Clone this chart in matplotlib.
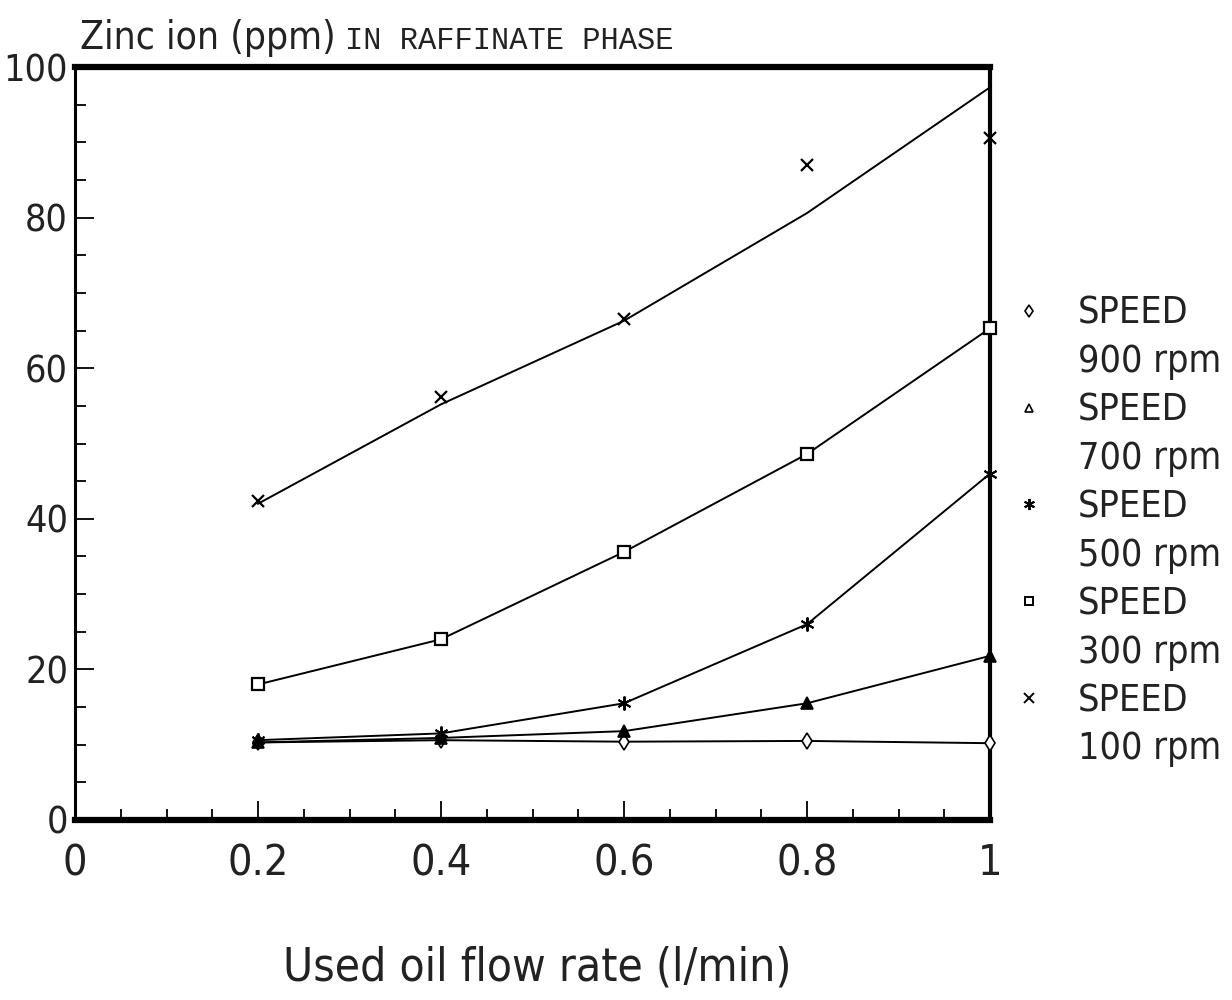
import matplotlib
matplotlib.use("Agg")
import matplotlib.pyplot as plt
from matplotlib.lines import Line2D
from matplotlib.ticker import MultipleLocator

flow = [0.2, 0.4, 0.6, 0.8, 1.0]
rpm900 = [10.3, 10.6, 10.4, 10.5, 10.2]
rpm700 = [10.3, 10.9, 11.8, 15.5, 21.8]
rpm500 = [10.6, 11.5, 15.5, 26.0, 46.0]
rpm300 = [18.0, 24.0, 35.6, 48.6, 65.3]
rpm100 = [42.3, 56.2, 66.5, 87.0, 90.6]
rpm100_fit = [42.0, 55.2, 66.3, 80.6, 97.3]
speeds = ["900 rpm", "700 rpm", "500 rpm", "300 rpm", "100 rpm"]
xticks = [0, 0.2, 0.4, 0.6, 0.8, 1.0]
xticklabels = ["0", "0.2", "0.4", "0.6", "0.8", "1"]
yticks = [0, 20, 40, 60, 80, 100]

FONT = dict(family="DejaVu Sans", fontstretch="condensed", fontweight="light")

fig = plt.figure(figsize=(12.32, 10), dpi=100)
ax = fig.add_axes([75/1232, 0.18, 915/1232, 0.753])

lw = 1.4
ms = 8
kw = dict(clip_on=False, zorder=5)
ax.plot(flow, rpm900, color="black", lw=lw, marker="d", ms=ms, mfc="white", mec="black", mew=1.2, **kw)
ax.plot(flow, rpm700, color="black", lw=lw, marker="^", ms=ms, mfc="black", mec="black", mew=1.2, **kw)
ax.plot(flow, rpm500, color="black", lw=lw, marker=(6, 2, 0), ms=ms+2, mec="black", mew=1.4, **kw)
ax.plot(flow, rpm300, color="black", lw=lw, marker="s", ms=ms, mfc="white", mec="black", mew=1.6, **kw)
ax.plot(flow, rpm100_fit, color="black", lw=lw, **kw)
ax.plot(flow, rpm100, ls="none", marker="x", ms=ms, mec="black", mew=1.6, **kw)

ax.set_xlim(0, 1.0)
ax.set_ylim(0, 100)
ax.set_xticks(xticks)
ax.set_xticklabels(xticklabels)
ax.set_yticks(yticks)
ax.xaxis.set_minor_locator(MultipleLocator(0.05))
ax.yaxis.set_minor_locator(MultipleLocator(5))
ax.tick_params(which="major", direction="in", length=14, width=1.3,
               top=False, right=False, color="black")
ax.tick_params(which="minor", direction="in", length=8, width=1.3, top=False, right=False)
ax.tick_params(axis="x", labelsize=31, pad=16)
ax.tick_params(axis="y", labelsize=27, pad=5)
for lab in ax.get_xticklabels() + ax.get_yticklabels():
    lab.set_fontfamily(FONT["family"])
    lab.set_fontstretch(FONT["fontstretch"])
    lab.set_fontweight(FONT["fontweight"])
    lab.set_color("#222222")

ax.spines["top"].set_linewidth(4.5)
ax.spines["bottom"].set_linewidth(4.5)
ax.spines["left"].set_linewidth(2.2)
ax.spines["right"].set_linewidth(3.0)

fig.text(80/1232, 1 - 38/1000, "Zinc ion (ppm)", fontsize=28, va="center", ha="left",
         color="#222222", **FONT)
fig.text(345/1232, 1 - 41/1000, "IN RAFFINATE PHASE", fontsize=22, va="center", ha="left",
         family="Liberation Mono", color="#222222")
fig.text(537/1232, 1 - 968/1000, "Used oil flow rate (l/min)", fontsize=33, va="center",
         ha="center", color="#222222", **FONT)

marker_handles = [
    Line2D([], [], ls="none", marker="d", ms=6, mfc="white", mec="black", mew=1.2),
    Line2D([], [], ls="none", marker="^", ms=6, mfc="white", mec="black", mew=1.2),
    Line2D([], [], ls="none", marker=(6, 2, 0), ms=8, mec="black", mew=1.4),
    Line2D([], [], ls="none", marker="s", ms=6, mfc="white", mec="black", mew=1.4),
    Line2D([], [], ls="none", marker="x", ms=7, mec="black", mew=1.4),
]
handles, labels = [], []
for h, s in zip(marker_handles, speeds):
    handles += [h, Line2D([], [], ls="none")]
    labels += ["SPEED", s]
leg = fig.legend(handles, labels, loc="upper left",
                 bbox_to_anchor=(1010/1232, 1 - 296/1000), frameon=False,
                 borderpad=0, borderaxespad=0,
                 handlelength=1.0, handletextpad=0.8, labelspacing=0.33,
                 prop=dict(family="DejaVu Sans", stretch="condensed", weight="light", size=27))
for t in leg.get_texts():
    t.set_color("#222222")

fig.savefig("out.png", dpi=100, facecolor="white")
